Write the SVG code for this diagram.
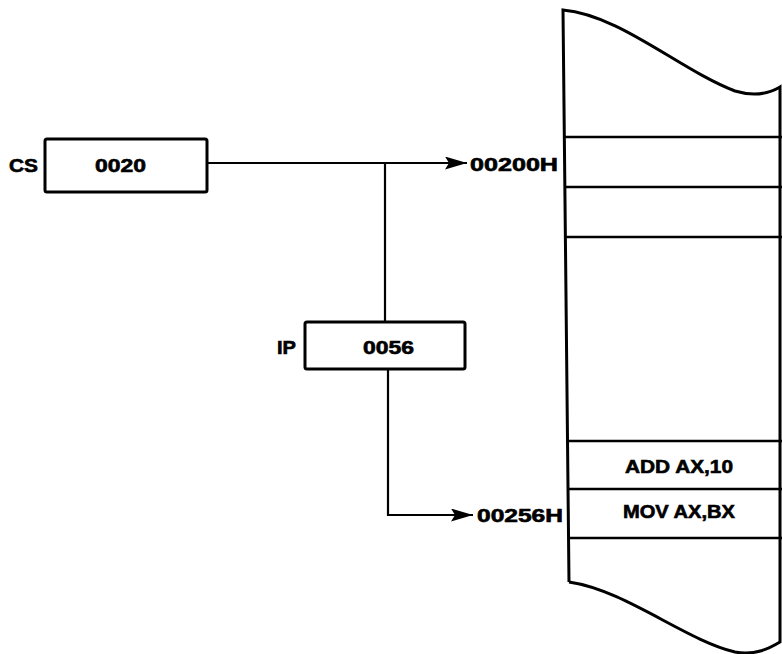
<svg xmlns="http://www.w3.org/2000/svg" width="782" height="654" viewBox="0 0 782 654">
<defs>
<style>
.t{font-family:"Liberation Sans",Arial,sans-serif;font-weight:bold;font-size:18px;fill:#000;stroke:#000;stroke-width:0.6}
.box{fill:#fff;stroke:#000;stroke-width:3}
.ln{fill:none;stroke:#000;stroke-width:2.2}
.mem{fill:none;stroke:#000;stroke-width:3}
.row{stroke:#000;stroke-width:2.5}
</style>
<marker id="ah" viewBox="0 0 22 13" refX="22" refY="6.5" markerWidth="22" markerHeight="13" markerUnits="userSpaceOnUse" orient="auto">
<path d="M0,0 L22,6.5 L0,13 L4,6.5 Z" fill="#000"/>
</marker>
</defs>
<rect width="782" height="654" fill="#fff"/>
<g id="connectors">
<path class="ln" d="M207,163 L467,163" marker-end="url(#ah)"/>
<path class="ln" d="M385,163 L385,322"/>
<path class="ln" d="M388,369 L388,515 L473,515" marker-end="url(#ah)"/>
</g>
<g id="cs">
<rect class="box" x="45" y="139" width="162" height="53" rx="2"/>
<text class="t" x="9" y="172" textLength="29" lengthAdjust="spacingAndGlyphs">CS</text>
<text class="t" x="95" y="172" textLength="51" lengthAdjust="spacingAndGlyphs">0020</text>
</g>
<g id="ip">
<rect class="box" x="305" y="322" width="160" height="47" rx="2"/>
<text class="t" x="277" y="354" textLength="19" lengthAdjust="spacingAndGlyphs">IP</text>
<text class="t" x="363" y="354" textLength="51" lengthAdjust="spacingAndGlyphs">0056</text>
</g>
<g id="memory">
<path class="mem" d="M569,582 L563,10 C620,15 680,70 735,91 C755,97 770,93 780,87 L780,642 C770,648 755,656 735,652 C685,640 625,590 569,582"/>
<line class="row" x1="563" y1="137" x2="782" y2="137"/>
<line class="row" x1="564" y1="187" x2="782" y2="187"/>
<line class="row" x1="564" y1="237" x2="782" y2="237"/>
<line class="row" x1="567" y1="441" x2="782" y2="441"/>
<line class="row" x1="568" y1="489" x2="782" y2="489"/>
<line class="row" x1="568" y1="538" x2="782" y2="538"/>
<text class="t" x="470" y="171" textLength="88" lengthAdjust="spacingAndGlyphs">00200H</text>
<text class="t" x="477" y="522" textLength="86" lengthAdjust="spacingAndGlyphs">00256H</text>
<text class="t" x="625" y="473" textLength="108" lengthAdjust="spacingAndGlyphs">ADD AX,10</text>
<text class="t" x="623" y="518" textLength="112" lengthAdjust="spacingAndGlyphs">MOV AX,BX</text>
</g>
</svg>
